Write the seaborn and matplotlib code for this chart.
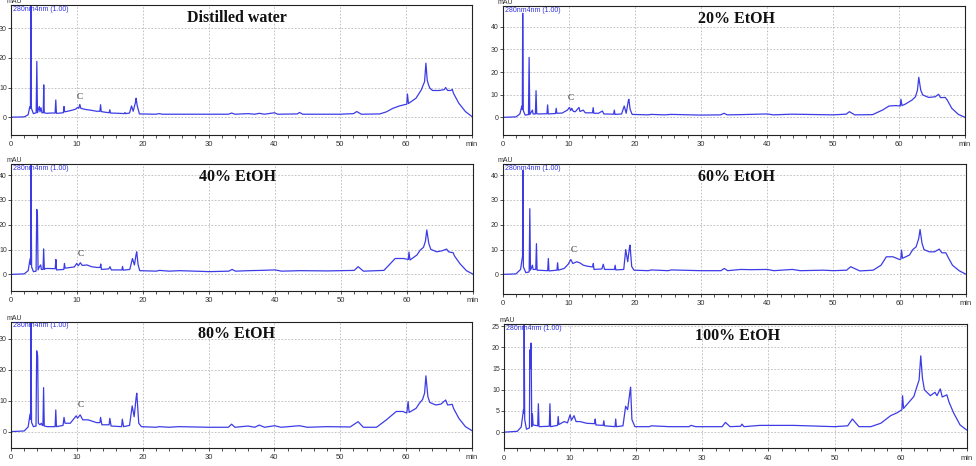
import matplotlib
matplotlib.use("Agg")
import matplotlib.pyplot as plt
import seaborn as sns
import pandas as pd
from matplotlib.ticker import MultipleLocator

sns.set_style("ticks")
plt.rcParams['font.family'] = ['Liberation Sans', 'DejaVu Sans']

# ---------------- data: (time [min], absorbance [mAU])
water = [(0,0),(2.0,0.1),(2.6,0.8),(2.85,3.5),(2.95,3.0),(3.02,40),(3.1,3),(3.4,1.2),(3.82,1.5),(3.92,18.8),(4.02,1.5),
         (4.3,3.6),(4.4,1.8),(4.55,3.2),(4.7,1.5),(4.9,1.5),(4.97,10.9),(5.05,1.5),(5.4,1.3),(6.0,1.4),(6.7,1.4),(6.8,5.8),
         (6.9,1.3),(7.5,1.4),(7.95,1.5),(8.05,3.6),(8.15,1.8),(9.0,2.2),(9.8,2.7),(10.1,3.3),(10.3,3.0),(10.45,4.3),(10.6,3.0),
         (11.3,2.6),(12.0,2.4),(13.0,2.0),(13.5,2.0),(13.6,4.2),(13.7,1.9),(14.2,1.7),(14.9,1.5),(15.0,2.5),(15.1,1.4),
         (16.5,1.3),(17.2,1.2),(17.3,1.6),(17.4,1.2),(18.0,1.4),(18.3,3.8),(18.55,2.0),(18.9,5.0),(19.0,6.4),(19.15,4.0),
         (19.5,1.1),(22,1.0),(22.5,1.2),(23,1.0),(30,1.0),(33.0,1.0),(33.5,1.4),(34.0,1.0),(36,1.2),(37,1.0),(37.7,1.3),
         (38.5,1.0),(40,1.5),(40.5,1.0),(43.5,1.1),(43.8,1.6),(44.3,1.0),(50,1.0),(52.0,1.2),(52.5,1.9),(53.2,1.0),(56,1.1),
         (57,1.8),(58,3.0),(59,3.8),(60.1,4.4),(60.2,7.8),(60.35,4.6),(61.5,6.4),(62.3,9.2),(62.8,12.0),(63.0,18.2),
         (63.2,12.5),(63.4,10.9),(63.6,9.8),(64,9.0),(65,9.0),(65.8,9.3),(66.0,10.0),(66.3,9.0),(66.8,9.0),(67.0,9.4),
         (67.2,8.0),(68,4.7),(69,1.9),(70,0.2)]

etoh20 = [(0,0),(2.0,0.2),(2.6,1.5),(2.9,5.0),(2.97,3.5),(3.03,46),(3.12,3),(3.4,1.0),(3.9,1.2),(4.0,26.5),(4.1,1.2),
          (4.5,3.2),(4.6,1.5),(4.95,1.5),(5.05,11.8),(5.15,1.6),(5.5,1.5),(6.7,1.6),(6.8,5.5),(6.9,1.5),(8.0,1.7),(8.1,4.0),
          (8.2,1.8),(9.0,1.9),(9.8,3.2),(10.1,4.4),(10.3,3.0),(10.45,4.0),(10.7,2.6),(11.0,2.5),(11.55,4.4),(11.7,2.6),
          (12.2,3.2),(12.5,2.0),(13.6,2.0),(13.7,4.3),(13.8,1.8),(14.5,1.8),(15.1,2.8),(15.3,1.5),(16.8,1.4),(16.9,3.2),
          (17.0,1.3),(18.0,1.5),(18.4,5.0),(18.7,1.8),(19.0,7.0),(19.1,8.0),(19.3,3.5),(19.6,1.3),(22,1.1),(22.5,1.3),
          (24.5,1.1),(25.5,1.3),(30,1.0),(33,1.1),(33.5,1.8),(34,1.1),(36,1.2),(40,1.5),(41,1.1),(43.8,1.4),(48,1.2),
          (50,1.1),(52,1.4),(52.5,2.5),(53.3,1.1),(56,1.2),(57.5,3.2),(58.5,5.0),(59.5,5.2),(60.2,5.0),(60.3,8.0),
          (60.45,5.2),(61,5.9),(62,7.7),(62.5,9.1),(62.8,12.0),(63.0,17.7),(63.3,12),(63.6,9.9),(64.5,8.8),(65.5,9.1),
          (66,10.2),(66.3,8.7),(67,8.8),(67.3,7.7),(68,4.0),(69,1.3),(70,0)]

etoh40 = [(0,0),(2.0,0.2),(2.6,1.5),(2.9,6.4),(2.97,4),(3.03,44.5),(3.12,3),(3.4,1.1),(3.8,1.3),(3.9,26.2),(4.0,24.6),
          (4.1,1.8),(4.3,3.1),(4.5,3.8),(4.6,2.0),(4.85,2.0),(4.95,10.3),(5.05,2.0),(5.3,2.4),(6.7,2.3),(6.8,6.0),(6.9,1.8),
          (8.0,2.0),(8.1,4.4),(8.2,2.5),(9.0,2.8),(9.6,3.0),(9.95,4.4),(10.2,3.5),(10.5,4.7),(10.8,3.6),(11.5,3.8),
          (12.2,3.1),(13.0,2.8),(13.5,2.8),(13.6,4.2),(13.7,2.0),(14.8,2.2),(15.0,3.1),(15.2,1.8),(16.8,1.8),(16.9,3.2),
          (17.0,1.7),(18.0,2.0),(18.4,6.4),(18.7,3.8),(18.95,8.0),(19.05,9.1),(19.25,4.0),(19.5,1.5),(22,1.3),(22.5,1.6),
          (24,1.3),(25.5,1.5),(29,1.2),(30,1.1),(33,1.3),(33.5,2.0),(34,1.3),(36,1.5),(37.7,1.6),(40,1.8),(41,1.3),
          (43.8,1.5),(48,1.4),(52,1.6),(52.6,3.1),(53.4,1.3),(56.5,1.6),(57.5,4.4),(58.2,6.4),(59.5,6.4),(60.2,6.0),
          (60.3,9.0),(60.45,5.8),(61.5,7.8),(62,9.8),(62.5,10.9),(62.8,13.5),(63.0,17.9),(63.3,12.5),(63.6,10.1),
          (64.5,9.1),(65.3,9.5),(66,10.2),(66.3,9.1),(67,8.7),(67.2,7.4),(68,4.4),(69,1.5),(70,0.1)]

etoh60 = [(0,0),(2.0,0.2),(2.7,2.0),(3.0,7.4),(3.05,42),(3.13,3),(3.5,0.7),(4.0,1.0),(4.1,26.5),(4.2,1.7),(4.5,3.7),
          (4.6,2.0),(5.0,2.0),(5.1,12.4),(5.2,1.7),(6.8,1.5),(6.9,6.4),(7.0,1.4),(8.2,1.7),(8.3,4.7),(8.4,1.7),(9.3,2.4),
          (9.9,4.1),(10.3,6.0),(10.6,4.4),(11.2,5.1),(11.7,4.6),(12.2,3.7),(12.8,3.3),(13.6,3.0),(13.7,4.4),(13.8,2.0),
          (15.0,2.2),(15.2,4.1),(15.4,2.0),(16.9,2.0),(17.0,3.7),(17.1,1.8),(18.3,2.0),(18.6,10.0),(18.9,5.1),(19.15,10.5),
          (19.25,11.8),(19.5,3.2),(19.85,1.7),(22,1.5),(22.5,1.8),(25,1.5),(25.5,1.8),(30,1.5),(33,1.5),(33.5,2.4),
          (34,1.5),(36,2.0),(37.5,1.9),(40,2.0),(41,1.5),(43.8,2.0),(45,1.5),(48.5,1.7),(50,1.5),(52,1.7),(52.6,3.1),
          (54,1.4),(56,1.7),(57.2,3.7),(58,7.1),(59,7.1),(60,6.0),(60.2,6.2),(60.3,9.8),(60.45,6.5),(61.5,7.8),(62,10.0),
          (62.5,11.1),(62.9,14.5),(63.1,18.1),(63.4,12.5),(63.7,10.0),(64.5,9.1),(65.3,9.1),(66,10.2),(66.4,8.7),(67,8.7),
          (67.3,7.1),(68,3.7),(69,1.5),(70,0.1)]

etoh80 = [(0,0),(2.0,0.2),(2.6,1.5),(2.9,5.7),(2.97,4),(3.03,36),(3.12,3),(3.4,1.6),(3.8,1.8),(3.9,26.1),(4.05,24.5),
          (4.15,2.7),(4.4,2.2),(4.6,2.7),(4.75,2.0),(4.85,2.0),(4.95,14.2),(5.05,1.8),(5.5,1.6),(6.7,1.6),(6.8,7.0),(6.9,1.6),
          (7.9,2.0),(8.05,4.6),(8.2,2.7),(9.0,2.7),(9.9,5.1),(10.1,4.3),(10.5,5.4),(10.9,3.8),(11.7,3.8),(13.0,2.9),
          (13.5,2.9),(13.6,4.6),(13.8,2.2),(14.9,2.2),(15.0,4.3),(15.2,1.8),(16.8,1.6),(16.9,4.0),(17.1,1.6),(18.0,2.0),
          (18.4,8.3),(18.7,4.8),(19.0,11.0),(19.1,12.4),(19.4,2.7),(19.8,1.6),(22,1.4),(22.5,1.6),(24,1.4),(25.5,1.6),
          (30,1.4),(33,1.4),(33.5,2.4),(34,1.4),(36,1.8),(37,1.4),(37.7,2.1),(38.5,1.4),(40,1.9),(41,1.4),(43.8,1.9),
          (45,1.4),(48,1.6),(51.5,1.5),(52.7,3.2),(53.5,1.4),(55.5,1.4),(57,3.8),(58.5,6.5),(59.5,6.5),(60.1,6.0),
          (60.3,9.7),(60.45,6.2),(61.5,7.5),(62,9.1),(62.5,10.4),(62.8,12.4),(63.0,18.0),(63.3,11.3),(63.6,9.4),
          (64.5,8.6),(65.3,8.9),(66,10.2),(66.3,8.6),(67,8.8),(67.2,7.5),(68,4.3),(69,1.6),(70,0.3)]

etoh100 = [(0,0),(2.0,0.2),(2.6,1.2),(2.95,5.3),(3.0,4.5),(3.05,26),(3.13,3),(3.4,0.7),(3.85,1.0),(3.9,19.4),(4.0,15),
           (4.1,21.0),(4.2,1.3),(4.3,4.3),(4.4,1.7),(5.1,1.5),(5.2,6.7),(5.3,1.3),(6.85,1.4),(6.95,6.7),(7.05,1.3),(8.1,1.6),
           (8.2,3.7),(8.3,1.8),(9.1,2.5),(9.6,2.2),(10.0,4.1),(10.2,2.8),(10.6,3.9),(10.9,2.5),(11.5,2.5),(12.5,2.1),
           (13.7,2.0),(13.8,3.1),(13.9,1.7),(15.0,1.6),(15.1,2.7),(15.2,1.5),(16.8,1.3),(16.9,3.1),(17.0,1.3),(18.0,1.5),
           (18.4,6.1),(18.7,5.3),(19.05,9.5),(19.15,10.6),(19.35,3.0),(19.8,1.3),(22,1.3),(22.3,1.5),(25,1.3),(28,1.3),
           (28.3,1.6),(29,1.3),(33,1.3),(33.5,2.3),(34.2,1.3),(35.8,1.4),(36,1.9),(36.3,1.3),(38.7,1.6),(40,1.6),
           (43.8,1.6),(50,1.3),(52.0,1.5),(52.7,3.1),(53.7,1.3),(55.5,1.3),(57,2.1),(58.5,3.9),(59.5,4.6),(60.2,5.3),
           (60.3,8.6),(60.45,5.6),(61.5,7.5),(62,8.4),(62.5,10.9),(62.8,12.3),(63.05,18.0),(63.3,12.8),(63.6,10.0),
           (64.5,8.6),(65.2,9.4),(65.5,8.6),(66,10.2),(66.3,8.3),(67,8.8),(67.3,7.2),(68,4.6),(69,1.7),(70,0.5)]

titles = ["Distilled water", "20% EtOH", "40% EtOH", "60% EtOH", "80% EtOH", "100% EtOH"]
traces = [water, etoh20, etoh40, etoh60, etoh80, etoh100]
# position of the "C" peak label (time, mAU); None = not labelled
c_labels = [(10.45, 5.5), (10.3, 6.9), (10.6, 6.8), (10.7, 8.2), (10.6, 7.2), None]
ylims = [(-6, 37.7), (-7.8, 49.2), (-6.7, 44.5), (-7.9, 44.5), (-5.2, 35.5), (-3.8, 25.5)]
ytick_steps = [10, 10, 10, 10, 10, 5]
xtick_labels = ["0", "10", "20", "30", "40", "50", "60", "min"]

# axes boxes in pixels: left, right, top, bottom
boxes = [(11, 472, 5.3, 135), (502.7, 965, 6, 135),
         (11, 473, 164, 291), (502.7, 965.7, 164, 294),
         (11, 472, 321.7, 447.7), (504, 966.7, 324, 448.3)]

W, H = 976, 466
fig = plt.figure(figsize=(W / 100, H / 100), dpi=100)
line_color = "#3c3ce6"

for i in range(6):
    l, r, t, b = boxes[i]
    ax = fig.add_axes([l / W, 1 - b / H, (r - l) / W, (b - t) / H])
    df = pd.DataFrame(traces[i], columns=["time", "mAU"])
    sns.lineplot(data=df, x="time", y="mAU", ax=ax, color=line_color, linewidth=0.9,
                 sort=False, estimator=None)
    ax.set_xlim(0, 70)
    ax.set_ylim(*ylims[i])
    ax.set_xticks(range(0, 71, 10))
    ax.set_xticklabels(xtick_labels)
    ax.xaxis.set_minor_locator(MultipleLocator(2))
    step = ytick_steps[i]
    top = ylims[i][1]
    ax.set_yticks([v for v in range(0, int(top) + 1, step)])
    ax.set_xlabel("")
    ax.set_ylabel("")
    ax.grid(True, which="major", color="#b8b8b8", linestyle=(0, (2, 2)), linewidth=0.6)
    for s in ax.spines.values():
        s.set_color("#222222")
        s.set_linewidth(0.8)
    ax.tick_params(axis="x", which="major", labelsize=5.5, labelcolor="#333333",
                   length=2.5, width=0.6, pad=2, direction="out", color="#333333")
    ax.tick_params(axis="y", which="major", labelsize=5, labelcolor="#333333",
                   length=2, width=0.6, pad=1, direction="out", color="#333333")
    ax.tick_params(axis="x", which="minor", length=2.5, width=0.6, color="#333333")
    ax.text(0.004, 0.995, "280nm4nm (1.00)", transform=ax.transAxes, ha="left", va="top",
            fontsize=5, color="#3030e0")
    ax.text(0.006, 1.0, "mAU", transform=ax.transAxes, ha="center", va="bottom",
            fontsize=5, color="#333333")
    tx = 0.49 if i % 2 == 0 else 0.505
    ax.text(tx, 0.9, titles[i], transform=ax.transAxes, ha="center", va="center",
            fontsize=11.5, fontweight="bold", family=["Liberation Serif", "DejaVu Serif"],
            color="#111111")
    if c_labels[i] is not None:
        cx, cy = c_labels[i]
        ax.text(cx, cy, "C", ha="center", va="bottom", fontsize=6.5,
                family=["Liberation Serif", "DejaVu Serif"], color="#222222")

fig.savefig("out.png", dpi=100)
